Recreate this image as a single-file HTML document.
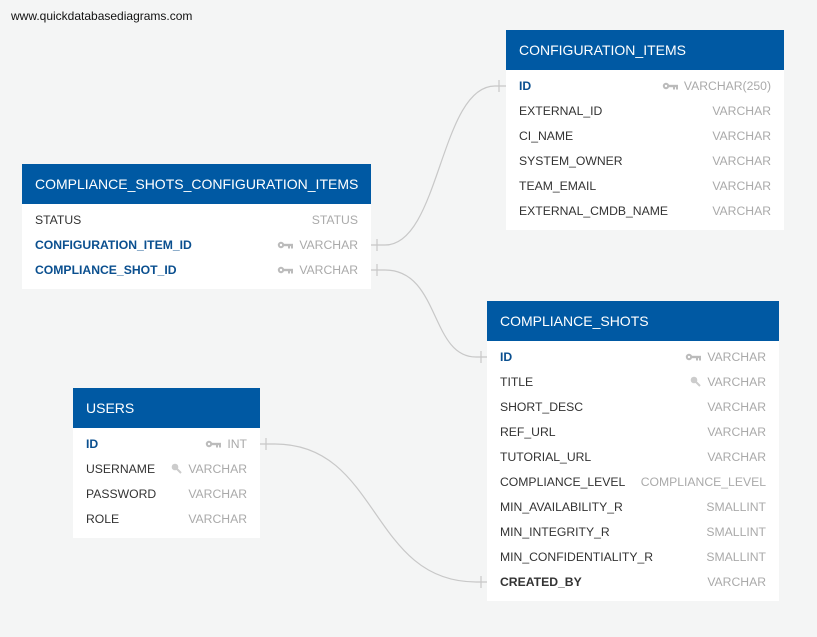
<!DOCTYPE html>
<html><head><style>
body{margin:0;width:817px;height:637px;background:#f4f5f5;font-family:"Liberation Sans",sans-serif;position:relative;overflow:hidden}
.t{position:absolute;background:#fff}
.h{background:#0059a3;color:#fff;font-size:14px;height:40px;line-height:40px;padding-left:13px}
.r{position:relative;height:25px;line-height:25px;font-size:12.2px;color:#333;padding:0 13px}
.r .ty{position:absolute;right:13px;top:0;color:#aaa;font-weight:normal}
.r.k{color:#0a4f8f;font-weight:bold}
.key{display:inline-block;vertical-align:middle;margin-right:6px;margin-top:-2px}
.wm{position:absolute;left:11px;top:9px;font-size:12px;color:#111}
svg.bg{position:absolute;left:0;top:0}
.sp{height:4px}
</style></head><body>
<div class="wm">www.quickdatabasediagrams.com</div>
<svg class="bg" width="817" height="637"><g fill="none" stroke="#c8c8c8" stroke-width="1.2">
<path d="M371 245 H385 C440 245 440 86 495 86 H506"/>
<path d="M371 270 H385 C440 270 430 357 476 357 H487"/>
<path d="M260 444 H275 C380 444 370 582 476 582 H487"/>
<path d="M377 239v12M499 80v12M377 264v12M481 351v12M266 438v12M481 576v12"/>
</g></svg>

<div class="t" style="left:506px;top:30px;width:278px;height:200px">
<div class="h">CONFIGURATION_ITEMS</div>
<div class="sp"></div>
<div class="r k">ID<span class="ty"><svg class="key" width="16" height="8"><circle cx="4" cy="4" r="3.2" fill="#bbb"/><circle cx="4" cy="4" r="1.2" fill="#fff"/><rect x="6" y="2.8" width="10" height="2.4" fill="#bbb"/><rect x="11" y="4" width="2" height="3.5" fill="#bbb"/><rect x="14" y="4" width="2" height="3.5" fill="#bbb"/></svg>VARCHAR(250)</span></div>
<div class="r">EXTERNAL_ID<span class="ty">VARCHAR</span></div>
<div class="r">CI_NAME<span class="ty">VARCHAR</span></div>
<div class="r">SYSTEM_OWNER<span class="ty">VARCHAR</span></div>
<div class="r">TEAM_EMAIL<span class="ty">VARCHAR</span></div>
<div class="r">EXTERNAL_CMDB_NAME<span class="ty">VARCHAR</span></div>
</div>

<div class="t" style="left:22px;top:164px;width:349px;height:125px">
<div class="h">COMPLIANCE_SHOTS_CONFIGURATION_ITEMS</div>
<div class="sp"></div>
<div class="r">STATUS<span class="ty">STATUS</span></div>
<div class="r k">CONFIGURATION_ITEM_ID<span class="ty"><svg class="key" width="16" height="8"><circle cx="4" cy="4" r="3.2" fill="#bbb"/><circle cx="4" cy="4" r="1.2" fill="#fff"/><rect x="6" y="2.8" width="10" height="2.4" fill="#bbb"/><rect x="11" y="4" width="2" height="3.5" fill="#bbb"/><rect x="14" y="4" width="2" height="3.5" fill="#bbb"/></svg>VARCHAR</span></div>
<div class="r k">COMPLIANCE_SHOT_ID<span class="ty"><svg class="key" width="16" height="8"><circle cx="4" cy="4" r="3.2" fill="#bbb"/><circle cx="4" cy="4" r="1.2" fill="#fff"/><rect x="6" y="2.8" width="10" height="2.4" fill="#bbb"/><rect x="11" y="4" width="2" height="3.5" fill="#bbb"/><rect x="14" y="4" width="2" height="3.5" fill="#bbb"/></svg>VARCHAR</span></div>
</div>

<div class="t" style="left:487px;top:301px;width:292px;height:300px">
<div class="h">COMPLIANCE_SHOTS</div>
<div class="sp"></div>
<div class="r k">ID<span class="ty"><svg class="key" width="16" height="8"><circle cx="4" cy="4" r="3.2" fill="#bbb"/><circle cx="4" cy="4" r="1.2" fill="#fff"/><rect x="6" y="2.8" width="10" height="2.4" fill="#bbb"/><rect x="11" y="4" width="2" height="3.5" fill="#bbb"/><rect x="14" y="4" width="2" height="3.5" fill="#bbb"/></svg>VARCHAR</span></div>
<div class="r">TITLE<span class="ty"><svg class="key" width="11" height="11"><circle cx="4" cy="4" r="3.3" fill="#ccc"/><path d="M6 6l4 4" stroke="#ccc" stroke-width="2"/></svg>VARCHAR</span></div>
<div class="r">SHORT_DESC<span class="ty">VARCHAR</span></div>
<div class="r">REF_URL<span class="ty">VARCHAR</span></div>
<div class="r">TUTORIAL_URL<span class="ty">VARCHAR</span></div>
<div class="r">COMPLIANCE_LEVEL<span class="ty">COMPLIANCE_LEVEL</span></div>
<div class="r">MIN_AVAILABILITY_R<span class="ty">SMALLINT</span></div>
<div class="r">MIN_INTEGRITY_R<span class="ty">SMALLINT</span></div>
<div class="r">MIN_CONFIDENTIALITY_R<span class="ty">SMALLINT</span></div>
<div class="r" style="font-weight:bold">CREATED_BY<span class="ty">VARCHAR</span></div>
</div>

<div class="t" style="left:73px;top:388px;width:187px;height:150px">
<div class="h">USERS</div>
<div class="sp"></div>
<div class="r k">ID<span class="ty"><svg class="key" width="16" height="8"><circle cx="4" cy="4" r="3.2" fill="#bbb"/><circle cx="4" cy="4" r="1.2" fill="#fff"/><rect x="6" y="2.8" width="10" height="2.4" fill="#bbb"/><rect x="11" y="4" width="2" height="3.5" fill="#bbb"/><rect x="14" y="4" width="2" height="3.5" fill="#bbb"/></svg>INT</span></div>
<div class="r">USERNAME<span class="ty"><svg class="key" width="11" height="11"><circle cx="4" cy="4" r="3.3" fill="#ccc"/><path d="M6 6l4 4" stroke="#ccc" stroke-width="2"/></svg>VARCHAR</span></div>
<div class="r">PASSWORD<span class="ty">VARCHAR</span></div>
<div class="r">ROLE<span class="ty">VARCHAR</span></div>
</div>
</body></html>
